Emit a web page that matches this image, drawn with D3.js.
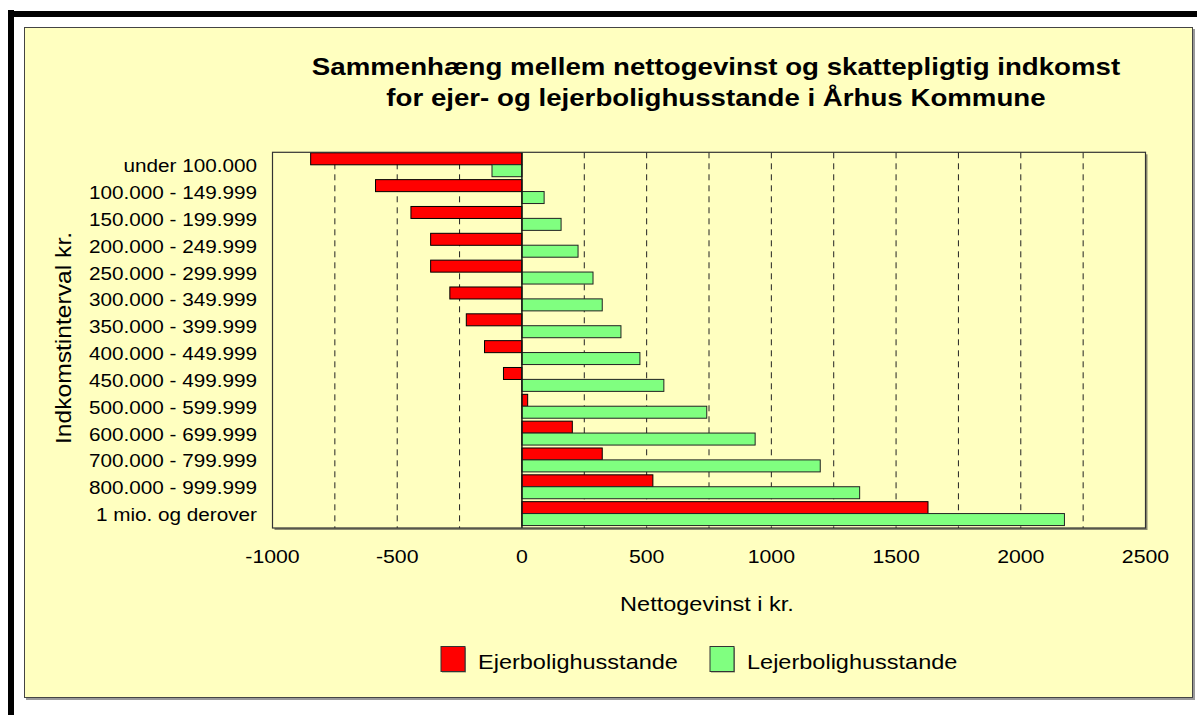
<!DOCTYPE html>
<html lang="da">
<head>
  <meta charset="UTF-8">
  <script src="https://d3js.org/d3.v7.min.js"></script>
  <title>Nettogevinst</title>
  <style>
    body { margin: 0; background: #fff; }
    text { font-family: "Liberation Sans", Arial, sans-serif; fill: #000; }
  </style>
</head>
<body>
  <svg id="chart" width="1197" height="715"></svg>

  <script>
    // Data (kr.)
    var categories = [
      "under 100.000", "100.000 - 149.999", "150.000 - 199.999", "200.000 - 249.999",
      "250.000 - 299.999", "300.000 - 349.999", "350.000 - 399.999", "400.000 - 449.999",
      "450.000 - 499.999", "500.000 - 599.999", "600.000 - 699.999", "700.000 - 799.999",
      "800.000 - 999.999", "1 mio. og derover"
    ];
    var ejer  = [-847, -587, -445, -366, -366, -289, -223, -150, -74, 23, 202, 322, 525, 1628];
    var lejer = [-120, 89, 157, 225, 285, 322, 397, 473, 569, 741, 935, 1196, 1354, 2175];
    var xTicks = [-1000, -500, 0, 500, 1000, 1500, 2000, 2500];
    var gridValues = [-750, -500, -250, 250, 500, 750, 1000, 1250, 1500, 1750, 2000, 2250];
    var seriesNames = ["Ejerbolighusstande", "Lejerbolighusstande"];
    var seriesColors = ["#ff0000", "#80ff80"];

    var svg = d3.select("#chart");
    var bg = "#ffffc0";
    var S = 1.12; // text is drawn a bit wider than Arial in the original

    // helper: text stretched along its own direction
    function label(x, y, str, size, anchor, opts) {
      opts = opts || {};
      var g = svg.append("g")
        .attr("transform", "translate(" + x + "," + y + ")" + (opts.rotate ? " rotate(" + opts.rotate + ")" : "") + " scale(" + S + ",1)");
      return g.append("text")
        .attr("text-anchor", anchor)
        .style("font-size", size + "px")
        .style("font-weight", opts.bold ? "bold" : "normal")
        .text(str);
    }

    // outer frame
    svg.append("rect").attr("x", 8).attr("y", 11).attr("width", 1189).attr("height", 6).attr("fill", "#000");
    svg.append("rect").attr("x", 8).attr("y", 10).attr("width", 6).attr("height", 705).attr("fill", "#000");

    // chart area with shadow
    svg.append("rect").attr("x", 26).attr("y", 29).attr("width", 1169).attr("height", 671).attr("fill", "#9a9a9a");
    svg.append("rect").attr("x", 24.5).attr("y", 27.5).attr("width", 1168).attr("height", 670)
      .attr("fill", bg).attr("stroke", "#444").attr("stroke-width", 1);

    // scales
    var x = d3.scaleLinear().domain([-1000, 2500]).range([272.5, 1145.5]);
    var y = d3.scaleBand().domain(categories).range([152.3, 528]);
    var plotL = x.range()[0], plotR = x.range()[1];
    var plotT = y.range()[0], plotB = y.range()[1];

    // plot area shadow + background
    svg.append("rect").attr("x", plotL + 2).attr("y", plotT + 2).attr("width", plotR - plotL).attr("height", plotB - plotT)
      .attr("fill", "#8c8c70");
    svg.append("rect").attr("x", plotL).attr("y", plotT).attr("width", plotR - plotL).attr("height", plotB - plotT)
      .attr("fill", bg);

    // dashed gridlines
    svg.append("g").selectAll("line")
      .data(gridValues)
      .enter().append("line")
        .attr("x1", function(d) { return x(d); })
        .attr("x2", function(d) { return x(d); })
        .attr("y1", plotT).attr("y2", plotB)
        .attr("stroke", "#222")
        .attr("stroke-width", 1)
        .attr("stroke-dasharray", "6,5");

    // bars
    var barH = 12;
    svg.append("g").selectAll("rect")
      .data(ejer)
      .enter().append("rect")
        .attr("x", function(d) { return x(Math.min(0, d)); })
        .attr("y", function(d, i) { return y(categories[i]) + 0.5; })
        .attr("width", function(d) { return Math.abs(x(d) - x(0)); })
        .attr("height", barH)
        .attr("fill", seriesColors[0])
        .attr("stroke", "#000")
        .attr("stroke-width", 1);

    svg.append("g").selectAll("rect")
      .data(lejer)
      .enter().append("rect")
        .attr("x", function(d) { return x(Math.min(0, d)); })
        .attr("y", function(d, i) { return y(categories[i]) + 12.4; })
        .attr("width", function(d) { return Math.abs(x(d) - x(0)); })
        .attr("height", barH)
        .attr("fill", seriesColors[1])
        .attr("stroke", "#222")
        .attr("stroke-width", 1);

    // zero axis and border
    svg.append("line").attr("x1", x(0)).attr("x2", x(0)).attr("y1", plotT).attr("y2", plotB)
      .attr("stroke", "#111").attr("stroke-width", 1.5);
    svg.append("rect").attr("x", plotL).attr("y", plotT).attr("width", plotR - plotL).attr("height", plotB - plotT)
      .attr("fill", "none").attr("stroke", "#333").attr("stroke-width", 1.2);

    // title
    label(716, 75, "Sammenhæng mellem nettogevinst og skattepligtig indkomst", 24.7, "middle", { bold: true });
    label(716, 106, "for ejer- og lejerbolighusstande i Århus Kommune", 24.7, "middle", { bold: true });

    // category labels
    categories.forEach(function(c) {
      label(257, y(c) + y.bandwidth() / 2 + 6.5, c, 18.5, "end");
    });

    // x tick labels
    xTicks.forEach(function(t) {
      label(x(t), 563, String(t), 19, "middle");
    });

    // axis titles
    label(707, 611, "Nettogevinst i kr.", 21, "middle");
    label(71, 338, "Indkomstinterval kr.", 22, "middle", { rotate: -90 });

    // legend
    var legendX = [441, 710];
    seriesNames.forEach(function(name, i) {
      svg.append("rect").attr("x", legendX[i] + 1).attr("y", 647.5).attr("width", 24).attr("height", 25)
        .attr("fill", "#8c8c70");
      svg.append("rect").attr("x", legendX[i]).attr("y", 646.5).attr("width", 24).attr("height", 25)
        .attr("fill", seriesColors[i]).attr("stroke", "#333").attr("stroke-width", 1);
      label(legendX[i] + 37, 669, name, 21, "start");
    });
  </script>
</body>
</html>
